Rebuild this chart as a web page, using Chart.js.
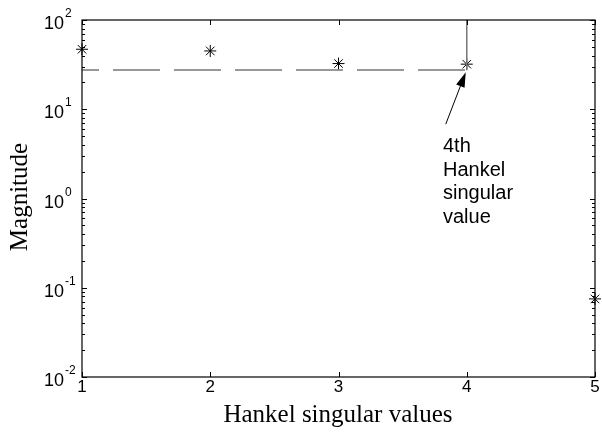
<!DOCTYPE html>
<html>
<head>
<meta charset="utf-8">
<script src="https://cdn.jsdelivr.net/npm/chart.js@4.4.1/dist/chart.umd.min.js"></script>
<style>body{margin:0;background:#fff}</style>
</head>
<body>
<canvas id="c" width="602" height="432"></canvas>
<script>
// data
const indices = [1, 2, 3, 4, 5];
const hankelValues = [47, 45, 32.5, 32, 0.075];
const dashedX = [1, 4];
const dashedY = [27.5, 27.5];
const verticalX = [4, 4];
const verticalY = [27.5, 100];
const xTicks = [1, 2, 3, 4, 5];
const yDecades = [-2, -1, 0, 1, 2];
const noteLines = ["4th", "Hankel", "singular", "value"];

const pts = (xs, ys) => xs.map((x, i) => ({ x: x, y: ys[i] }));

const axesPlugin = {
    id: "matlabAxes",
    afterDraw(chart) {
        const ctx = chart.ctx;
        const a = chart.chartArea;
        const xs = chart.scales.x, ys = chart.scales.y;
        ctx.save();
        ctx.strokeStyle = "#000";
        ctx.lineWidth = 1.2;
        ctx.strokeRect(a.left, a.top, a.right - a.left, a.bottom - a.top);

        // y ticks (major + minor), both sides, pointing inward
        ctx.lineWidth = 1;
        ctx.beginPath();
        yDecades.forEach((d) => {
            for (let m = 1; m <= 9; m++) {
                const v = m * Math.pow(10, d);
                if (v > 100.0001) break;
                const py = Math.round(ys.getPixelForValue(v)) + 0.5;
                const len = m === 1 ? 5 : 3;
                ctx.moveTo(a.left, py); ctx.lineTo(a.left + len, py);
                ctx.moveTo(a.right, py); ctx.lineTo(a.right - len, py);
            }
        });
        // x ticks
        xTicks.forEach((t) => {
            const px = Math.round(xs.getPixelForValue(t)) + 0.5;
            ctx.moveTo(px, a.bottom); ctx.lineTo(px, a.bottom - 5);
            ctx.moveTo(px, a.top); ctx.lineTo(px, a.top + 5);
        });
        ctx.stroke();

        // y tick labels 10^k
        ctx.fillStyle = "#000";
        ctx.textAlign = "left";
        ctx.textBaseline = "alphabetic";
        yDecades.forEach((d) => {
            const py = ys.getPixelForValue(Math.pow(10, d));
            ctx.font = "18px 'Liberation Sans', Arial, sans-serif";
            ctx.fillText("10", 44, py + 9);
            const w = ctx.measureText("10").width;
            ctx.font = "12px 'Liberation Sans', Arial, sans-serif";
            ctx.fillText(String(d), 44 + w + 1, py - 3);
        });

        // x tick labels
        ctx.textAlign = "center";
        ctx.font = "17px 'Liberation Sans', Arial, sans-serif";
        xTicks.forEach((t) => {
            ctx.fillText(String(t), xs.getPixelForValue(t), 392);
        });

        // axis titles
        ctx.font = "25px 'Liberation Serif', 'Times New Roman', serif";
        ctx.fillText("Hankel singular values", 338, 422);
        ctx.save();
        ctx.translate(27, 197);
        ctx.rotate(-Math.PI / 2);
        ctx.fillText("Magnitude", 0, 0);
        ctx.restore();

        // annotation arrow
        const tipX = xs.getPixelForValue(4) - 1;
        const tipY = ys.getPixelForValue(hankelValues[3]) + 8;
        const tailX = tipX - 20, tailY = tipY + 52;
        const ang = Math.atan2(tipY - tailY, tipX - tailX);
        ctx.beginPath();
        ctx.moveTo(tailX, tailY);
        ctx.lineTo(tipX - 10 * Math.cos(ang), tipY - 10 * Math.sin(ang));
        ctx.stroke();
        ctx.beginPath();
        ctx.moveTo(tipX, tipY);
        ctx.lineTo(tipX - 15 * Math.cos(ang) + 4.5 * Math.sin(ang), tipY - 15 * Math.sin(ang) - 4.5 * Math.cos(ang));
        ctx.lineTo(tipX - 15 * Math.cos(ang) - 4.5 * Math.sin(ang), tipY - 15 * Math.sin(ang) + 4.5 * Math.cos(ang));
        ctx.closePath();
        ctx.fill();

        // annotation text
        ctx.textAlign = "left";
        ctx.font = "20px 'Liberation Sans', Arial, sans-serif";
        noteLines.forEach((s, i) => ctx.fillText(s, 443, 152 + i * 23.5));
        ctx.restore();
    },
};

new Chart(document.getElementById("c"), {
    type: "scatter",
    data: {
        datasets: [
            {
                data: pts(dashedX, dashedY),
                showLine: true,
                borderColor: "#777",
                borderWidth: 1.5,
                borderDash: [47, 14],
                borderDashOffset: 30,
                pointRadius: 0,
            },
            {
                data: pts(verticalX, verticalY),
                showLine: true,
                borderColor: "#777",
                borderWidth: 1.5,
                pointRadius: 0,
            },
            {
                data: pts(indices, hankelValues),
                pointStyle: "star",
                pointRadius: 6,
                borderColor: "#000",
                backgroundColor: "#000",
                pointBorderWidth: 1,
                clip: false,
            },
        ],
    },
    options: {
        responsive: false,
        animation: false,
        events: [],
        layout: { padding: { left: 82, right: 5, top: 20, bottom: 55 } },
        scales: {
            x: { type: "linear", min: 1, max: 5, display: false },
            y: { type: "logarithmic", min: 0.01, max: 100, display: false },
        },
        plugins: { legend: { display: false }, tooltip: { enabled: false } },
    },
    plugins: [axesPlugin],
});
</script>
</body>
</html>
